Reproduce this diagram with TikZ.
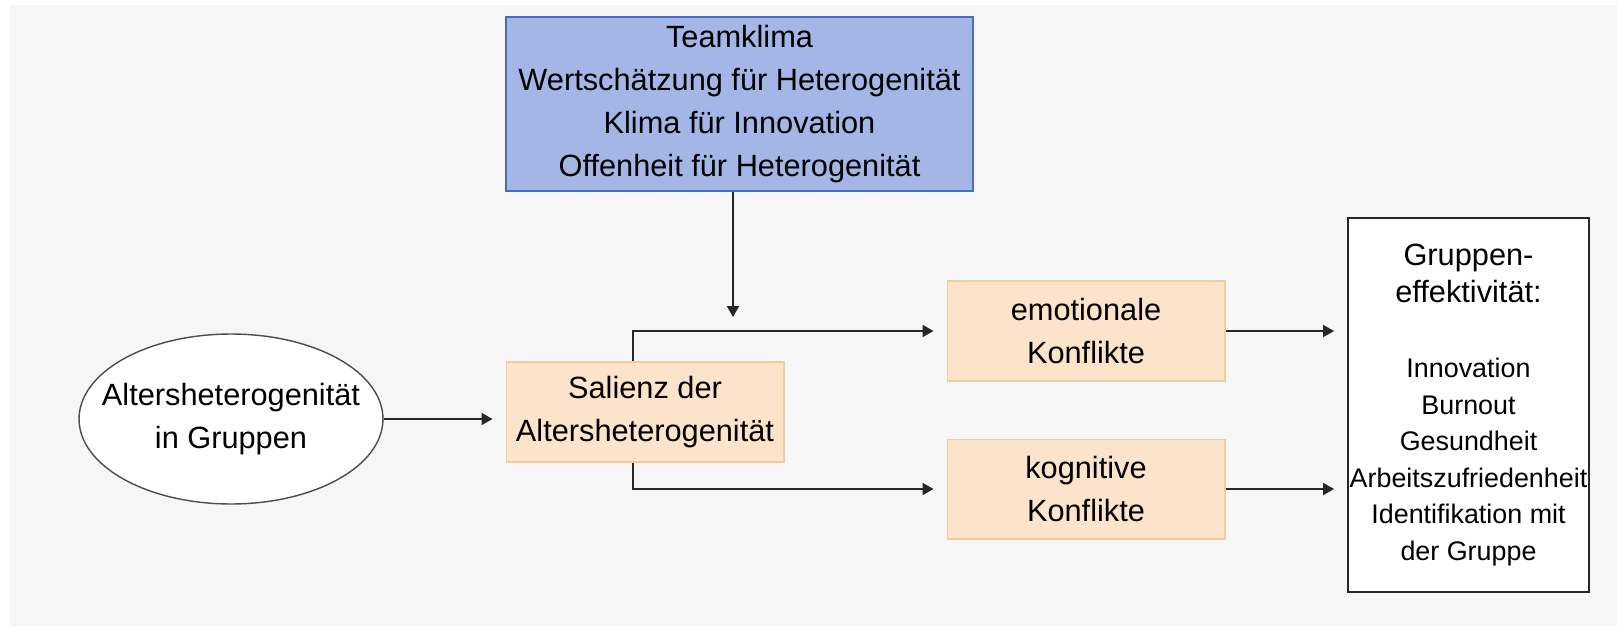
\documentclass[tikz,border=0pt]{standalone}
\usepackage{fontspec}
\setmainfont{Liberation Sans}
\usetikzlibrary{positioning, shapes.geometric, arrows.meta}

\definecolor{bggray}{RGB}{246,246,246}
\definecolor{klimablue}{RGB}{163,182,230}
\definecolor{klimaedge}{RGB}{72,110,196}
\definecolor{konfliktfill}{RGB}{252,228,202}
\definecolor{konfliktedge}{RGB}{238,206,160}
\newcommand{\itemfont}{\fontsize{15.3}{20.8}\selectfont}

\begin{document}
\begin{tikzpicture}[x=0.02cm, y=-0.02cm, font=\fontsize{17.5}{24.5}\selectfont,
        klimabox/.style={rectangle, draw=klimaedge, fill=klimablue, line width=0.8pt, inner sep=0pt, minimum width=9.34cm, minimum height=3.48cm, align=center},
        konflikt/.style={rectangle, draw=konfliktedge, fill=konfliktfill, line width=0.6pt, inner sep=0pt, minimum width=5.56cm, minimum height=2cm, align=center},
        bubble/.style={ellipse, draw=black!70, fill=white, line width=0.8pt, inner sep=0pt, minimum width=6.08cm, minimum height=3.4cm},
        outcome/.style={rectangle, draw=black!85, fill=white, line width=1.1pt, inner sep=0pt, minimum width=4.82cm, minimum height=7.48cm, align=center},
        link/.style={-{Triangle[length=2.2mm, width=2.4mm]}, line width=1.1pt, draw=black!85, shorten >=0.26cm}]
        \useasboundingbox (0,0) rectangle (1617,626);
        \fill[bggray] (10,5) rectangle (1617,626);
        \node (team) [klimabox] at (739.5,104) {Teamklima\\Wertschätzung für Heterogenität\\Klima für Innovation\\Offenheit für Heterogenität};
        \node (alter) [bubble, label={[align=center]center:Altersheterogenität\\in Gruppen}] at (231,419) {};
        \node (salienz) [konflikt] at (645,412) {Salienz der\\Altersheterogenität};
        \node (emo) [konflikt] at (1086,331) {emotionale\\Konflikte};
        \node (kog) [konflikt, below=1.14cm of emo] {kognitive\\Konflikte};
        \node (gruppe) [outcome, font=\fontsize{17.5}{20.8}\selectfont] at (1468.5,405) {Gruppen-\\effektivität:\\[22pt]
            \itemfont Innovation\\\itemfont Burnout\\\itemfont Gesundheit\\\itemfont Arbeitszufriedenheit\\\itemfont Identifikation mit\\\itemfont der Gruppe};
        \coordinate (split) at (633,0);
        \coordinate (klimatip) at (733,317);
        \draw[link, shorten >=0pt] (team.south -| klimatip) -- (klimatip);
        \draw[link] (alter.east) -- (alter.east -| salienz.west);
        \draw[link] (salienz.north -| split) |- (emo.west);
        \draw[link] (salienz.south -| split) |- (kog.west);
        \draw[link] (emo.east) -- (emo.east -| gruppe.west);
        \draw[link] (kog.east) -- (kog.east -| gruppe.west);
\end{tikzpicture}
\end{document}
